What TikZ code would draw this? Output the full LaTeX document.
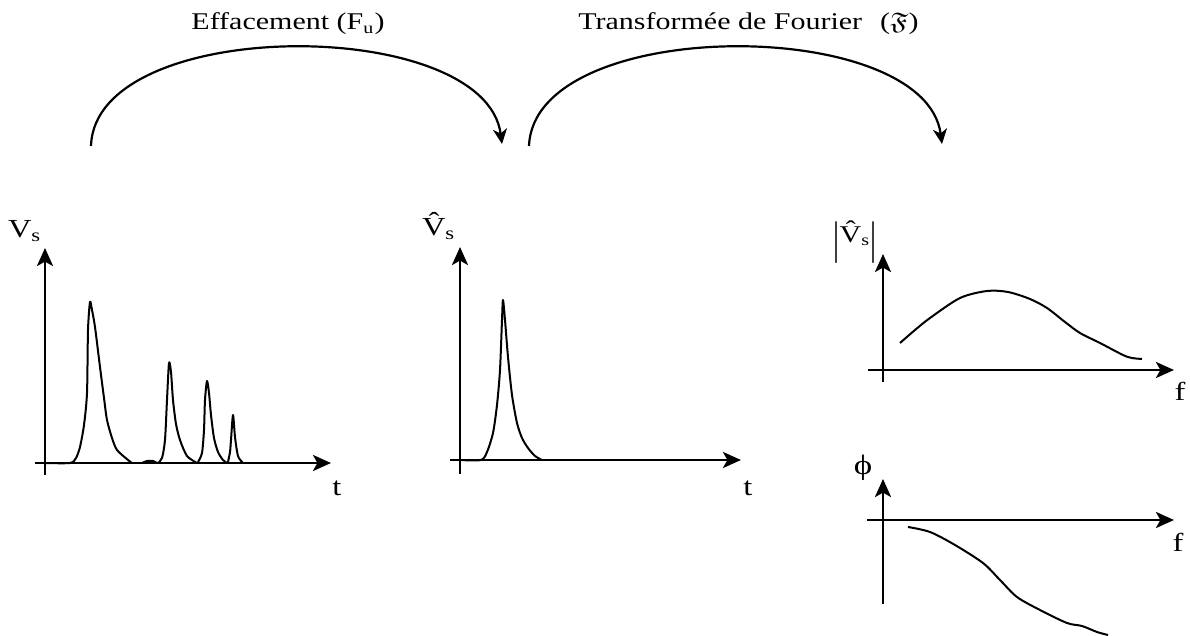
\documentclass[tikz,border=0pt]{standalone}
\usepackage{fontspec}
\setmainfont{Liberation Serif}
\usepackage{amssymb}
\usepackage{graphicx}
\usetikzlibrary{arrows.meta}
\newcommand\wtxt[1]{\scalebox{1.25}[1]{#1}}
\begin{document}
\begin{tikzpicture}[x=0.5pt,y=-0.5pt,
  axisline/.style={line width=1.4pt,-{Stealth[length=9pt,width=8pt,inset=2.2pt]}},
  curve/.style={line width=1pt,line join=round},
  flow/.style={line width=1.1pt,-{Stealth[length=7.5pt,width=7pt,inset=2.2pt]}},
  lbl/.style={inner sep=0pt},
  title/.style={lbl,font=\fontsize{12}{14}\selectfont},
  ylbl/.style={lbl,font=\fontsize{13}{15}\selectfont},
  xlbl/.style={lbl,font=\fontsize{13}{15}\selectfont}]
\useasboundingbox (0,0) rectangle (1190,636);

% titles
\node[title,anchor=base] (t1) at (288,30) {\wtxt{Effacement (F\textsubscript{u})}};
\node[title,anchor=base west] (t2) at (578,30) {\wtxt{Transformée de Fourier\hspace{0.6em}($\mathfrak{F}$)}};

% flow arcs
\coordinate (a1s) at (91,146);
\coordinate (a1e) at (502,144);
\coordinate (a2s) at (529,146);
\coordinate (a2e) at (942,144);
\draw[flow] (a1s) .. controls (95,15) and (485,15) .. (a1e);
\draw[flow] (a2s) .. controls (534,15) and (925,15) .. (a2e);

% ---------- graph 1 ----------
\coordinate (g1yb) at (45,475);
\coordinate (g1yt) at (45,248);
\coordinate (g1xl) at (35,463);
\coordinate (g1xr) at (331,463);
\draw[axisline] (g1yb) -- (g1yt);
\draw[axisline] (g1xl) -- (g1xr);
\node[ylbl,anchor=base east] (g1v) at (42,238) {\wtxt{V\textsubscript{s}}};
\node[xlbl] (g1t) at (337,488) {\wtxt{t}};
\draw[curve] plot[smooth,tension=0.45] coordinates {(45,463)(70,463)(76,458)(80,447)(84,425)(87,393)(88,330)(90,302)(92,310)(95,327)(100,367)(104,398)(107,420)(112,438)(117,450)(128,460)(132,463)};
\draw[curve] plot[smooth,tension=0.5] coordinates {(142,463)(147,461)(153,461)(157,463)};
\draw[curve] plot[smooth,tension=0.45] coordinates {(158,463)(162,458)(165,440)(167,400)(169,363)(171,372)(173,400)(176,424)(180,440)(187,456)(197,463)};
\draw[curve] plot[smooth,tension=0.45] coordinates {(198,462)(202,453)(204,430)(205,400)(207,381)(209,393)(211,415)(214,438)(218,452)(223,460)(227,463)};
\draw[curve] plot[smooth,tension=0.45] coordinates {(228,462)(230,452)(231,440)(233,415)(235,437)(238,456)(243,463)};

% ---------- graph 2 ----------
\coordinate (g2yb) at (460,474);
\coordinate (g2yt) at (460,247);
\coordinate (g2xl) at (450,460);
\coordinate (g2xr) at (741,460);
\draw[axisline] (g2yb) -- (g2yt);
\draw[axisline] (g2xl) -- (g2xr);
\node[ylbl,anchor=base east] (g2v) at (456,236) {\wtxt{\^{V}\textsubscript{s}}};
\node[xlbl] (g2t) at (748,488) {\wtxt{t}};
\draw[curve] plot[smooth,tension=0.45] coordinates {(460,460)(481,460)(487,452)(493,433)(497,405)(500,370)(502,320)(503,300)(505,320)(508,357)(512,395)(517,423)(522,438)(528,448)(535,456)(542,460)};

% ---------- graph 3 ----------
\coordinate (g3yb) at (883,382);
\coordinate (g3yt) at (883,254);
\coordinate (g3xl) at (868,370);
\coordinate (g3xr) at (1174,370);
\draw[axisline] (g3yb) -- (g3yt);
\draw[axisline] (g3xl) -- (g3xr);
\node[lbl,font=\fontsize{12}{14}\selectfont] (g3v) at (855,242) {\wtxt{\raisebox{-0.45em}{\scalebox{1}[1.9]{|}}\^{V}\textsubscript{s}\raisebox{-0.45em}{\scalebox{1}[1.9]{|}}}};
\node[xlbl] (g3f) at (1180,391) {\wtxt{f}};
\draw[curve] plot[smooth,tension=0.5] coordinates {(900,343)(915,330)(930,318)(960,298)(987,291)(1008,292)(1030,299)(1047,308)(1065,322)(1080,333)(1100,343)(1123,355)(1132,358)(1142,359)};

% ---------- graph 4 ----------
\coordinate (g4yb) at (883,604);
\coordinate (g4yt) at (883,479);
\coordinate (g4xl) at (867,520);
\coordinate (g4xr) at (1174,520);
\draw[axisline] (g4yb) -- (g4yt);
\draw[axisline] (g4xl) -- (g4xr);
\node[lbl,font=\fontsize{14}{16}\selectfont] (g4p) at (863,468) {\wtxt{ϕ}};
\node[xlbl] (g4f) at (1178,542) {\wtxt{f}};
\draw[curve] plot[smooth,tension=0.5] coordinates {(908,527)(930,532)(955,545)(983,563)(1000,580)(1017,597)(1040,610)(1067,623)(1082,626)(1097,632)(1108,635)};
\end{tikzpicture}
\end{document}
